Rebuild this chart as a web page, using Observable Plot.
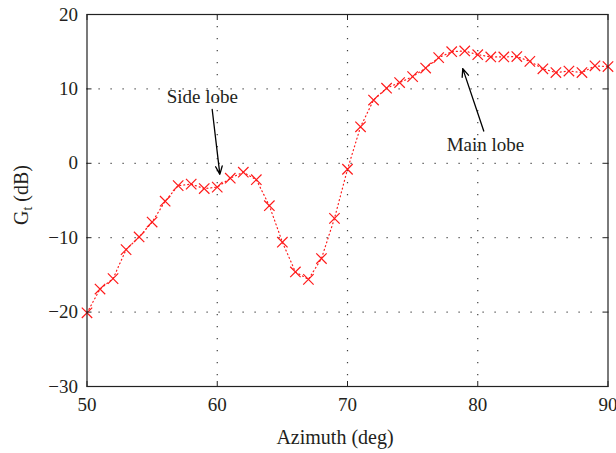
<!DOCTYPE html>
<html>
<head>
<meta charset="utf-8">
<script src="https://cdn.jsdelivr.net/npm/d3@7"></script>
<script src="https://cdn.jsdelivr.net/npm/@observablehq/plot@0.6"></script>
<style>
  html, body { margin: 0; padding: 0; background: #fff; }
  #chart { width: 616px; height: 453px; }
</style>
</head>
<body>
<div id="chart"></div>
<script>
// Azimuth (deg)
const azimuth = [50,51,52,53,54,55,56,57,58,59,60,61,62,63,64,65,66,67,68,69,70,
                 71,72,73,74,75,76,77,78,79,80,81,82,83,84,85,86,87,88,89,90];
// G_t (dB)
const gain = [-20.1,-16.9,-15.5,-11.6,-9.9,-7.9,-5.1,-3.0,-2.8,-3.4,-3.2,-2.0,-1.2,
              -2.2,-5.7,-10.6,-14.6,-15.6,-12.8,-7.4,-0.8,
              4.9,8.5,10.1,10.85,11.65,12.8,14.2,15.0,15.1,14.6,14.3,14.3,14.35,13.7,12.7,12.2,12.4,12.2,13.1,13.0];
const xTicks = [50,60,70,80,90];
const yTicks = [-30,-20,-10,0,10,20];
// annotations (data coordinates)
const noteLabels = ["Side lobe", "Main lobe"];
const noteX = [58.85, 80.59];
const noteY = [8.94, 2.42];
const arrowX1 = [59.61, 80.46];
const arrowY1 = [7.26, 4.34];
const arrowX2 = [60.20, 78.85];
const arrowY2 = [-1.48, 12.72];

const data = azimuth.map((a, i) => ({a, g: gain[i]}));
const notes = noteLabels.map((t, i) => ({t, x: noteX[i], y: noteY[i]}));
const arrows = arrowX1.map((x1, i) => ({x1, y1: arrowY1[i], x2: arrowX2[i], y2: arrowY2[i]}));

const font = "Liberation Serif, Times New Roman, serif";
const ink = "#231f20";

const plot = Plot.plot({
  width: 616,
  height: 453,
  marginLeft: 86.5,
  marginRight: 8.5,
  marginTop: 14,
  marginBottom: 67,
  style: {fontFamily: font, fontSize: "19px", color: ink, background: "#fff"},
  x: {domain: [50, 90]},
  y: {domain: [-30, 20]},
  marks: [
    Plot.gridX(xTicks.slice(1, -1), {stroke: "#000", strokeOpacity: 0.75, strokeWidth: 1.2, strokeDasharray: "1.2,10.8"}),
    Plot.gridY(yTicks.slice(1, -1), {stroke: "#000", strokeOpacity: 0.75, strokeWidth: 1.2, strokeDasharray: "1.2,10.8"}),
    Plot.line(data, {x: "a", y: "g", stroke: "#ff1a1a", strokeWidth: 1.2, strokeDasharray: "1,3"}),
    Plot.dot(data, {x: "a", y: "g", symbol: "times", r: 4.8, stroke: "#ff1a1a", strokeWidth: 1.2}),
    Plot.arrow(arrows, {x1: "x1", y1: "y1", x2: "x2", y2: "y2", stroke: "#000", strokeWidth: 1.3, headLength: 10, headAngle: 45}),
    Plot.text(notes, {x: "x", y: "y", text: "t", fontSize: 19, fill: ink, textAnchor: "middle", lineAnchor: "middle"}),
    Plot.frame({stroke: "#222", strokeWidth: 1.2}),
    Plot.axisX(xTicks, {anchor: "bottom", tickSize: -5, tickPadding: 16, label: null, stroke: "#222", fill: ink, fontSize: 19}),
    Plot.axisX(xTicks, {anchor: "top", tickSize: -5, tickFormat: () => "", label: null, stroke: "#222"}),
    Plot.axisY(yTicks, {anchor: "left", tickSize: -5, tickPadding: 14, label: null, stroke: "#222", fill: ink, fontSize: 19, tickFormat: d => d < 0 ? "\u2212" + Math.abs(d) : String(d)}),
    Plot.axisY(yTicks, {anchor: "right", tickSize: -5, tickFormat: () => "", label: null, stroke: "#222"})
  ]
});

const svg = d3.select(plot);
svg.append("text")
  .attr("x", 335).attr("y", 444)
  .attr("text-anchor", "middle")
  .attr("font-family", font).attr("font-size", 20).attr("fill", ink)
  .text("Azimuth (deg)");
const yl = svg.append("text")
  .attr("transform", "translate(28,195) rotate(-90)")
  .attr("text-anchor", "middle")
  .attr("font-family", font).attr("font-size", 20).attr("fill", ink);
yl.append("tspan").text("G");
yl.append("tspan").attr("font-size", 14).attr("dy", 4).text("t");
yl.append("tspan").attr("dy", -4).text(" (dB)");

document.getElementById("chart").appendChild(plot);
</script>
</body>
</html>
